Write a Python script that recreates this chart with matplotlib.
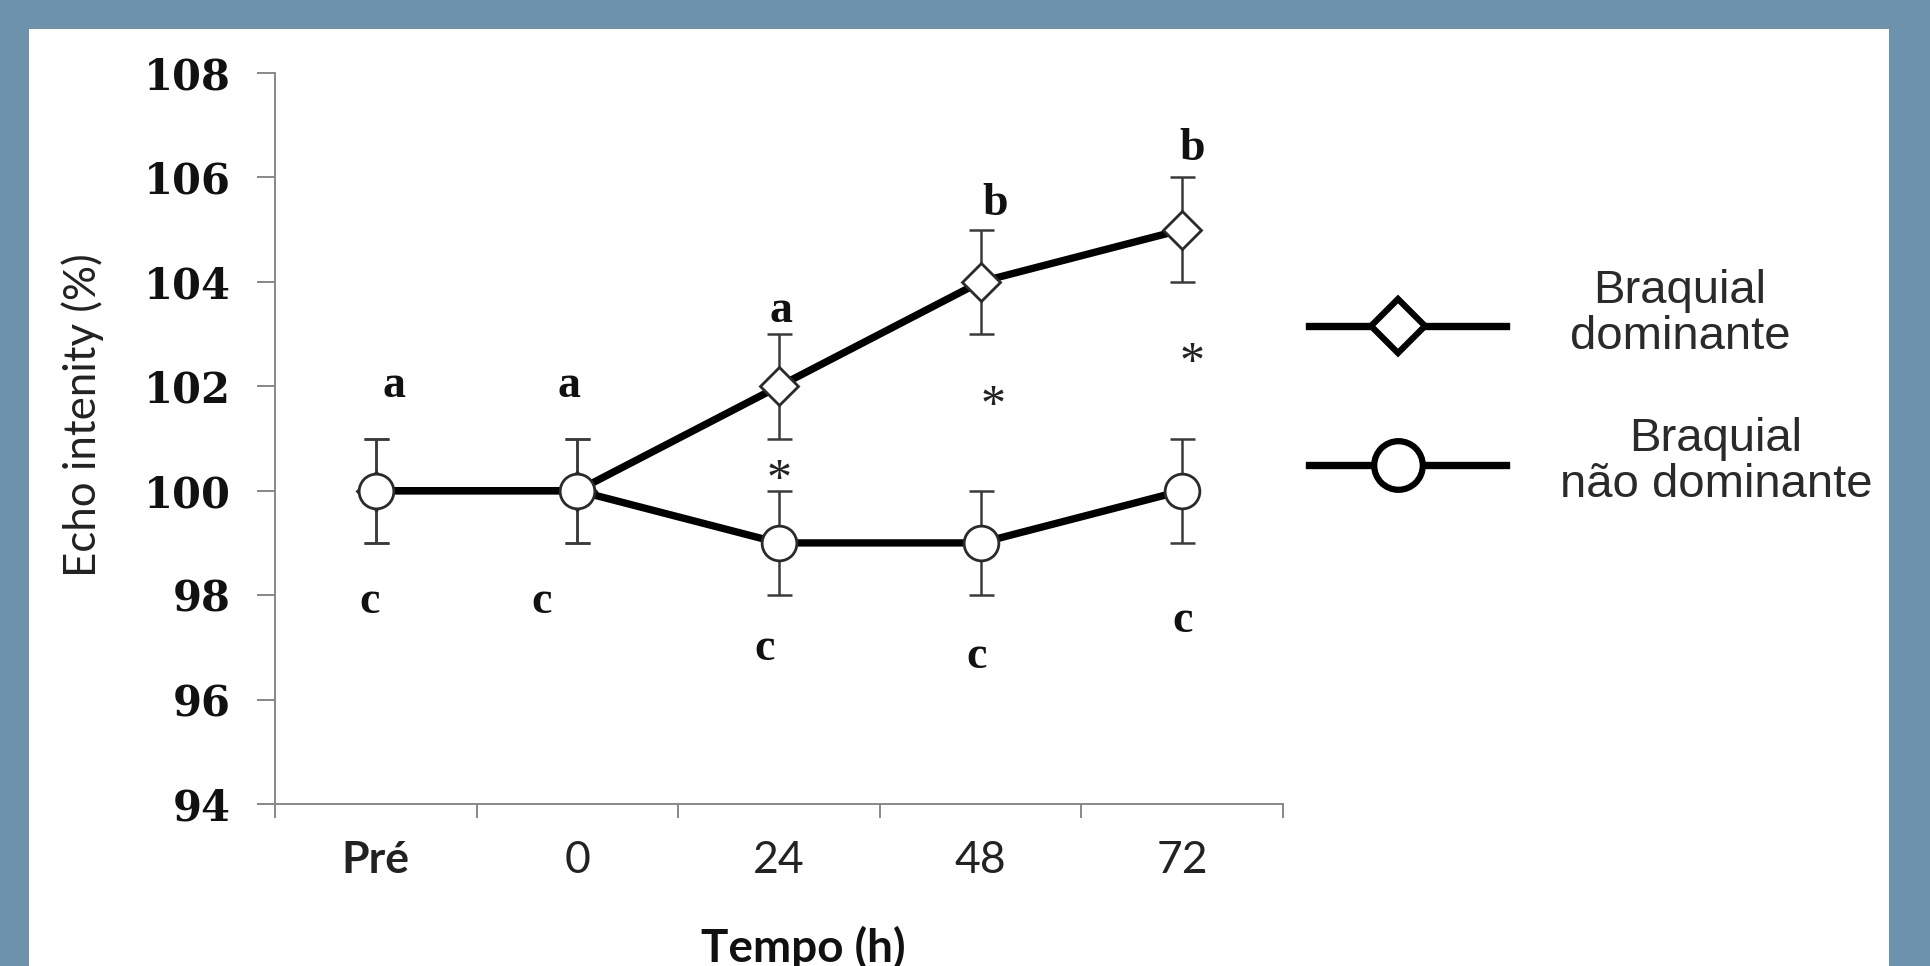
import matplotlib.pyplot as plt
from matplotlib.lines import Line2D
from matplotlib.patches import Rectangle

# dados (Echo intensity, % do pré)
tempos = ['Pré', '0', '24', '48', '72']
dominante = [100, 100, 102, 104, 105]
dominante_err = [1, 1, 1, 1, 1]
nao_dominante = [100, 100, 99, 99, 100]
nao_dominante_err = [1, 1, 1, 1, 1]

# letras de significancia e asteriscos (valor y onde aparecem)
letras_sup = ['a', 'a', 'a', 'b', 'b']
letras_sup_y = [102.0, 102.0, 103.45, 105.5, 106.55]
letras_inf = ['c', 'c', 'c', 'c', 'c']
letras_inf_y = [97.87, 97.87, 96.97, 96.82, 97.5]
asterisco_idx = [2, 3, 4]
asterisco_y = [100.2, 101.6, 102.43]

# pequenos deslocamentos horizontais das letras (em unidades de categoria)
sup_dx = [0.09, -0.04, 0.01, 0.07, 0.05]
inf_dx = [-0.03, -0.18, -0.07, -0.02, 0.0]
ast_dx = [0.0, 0.06, 0.05]

W, H = 1931, 966
fig = plt.figure(figsize=(W / 100, H / 100), dpi=100)
fig.patch.set_facecolor('#6d92ab')


def fx(x):
    return x / W


def fy(y):
    return 1 - y / H


# painel branco (atrás dos eixos)
fig.patches.append(Rectangle((fx(29), 0), fx(1889) - fx(29), fy(29),
                             transform=fig.transFigure, facecolor='white',
                             edgecolor='none', zorder=-10))

ax = fig.add_axes([fx(275), fy(804), fx(1283) - fx(275), fy(73) - fy(804)])
ax.set_facecolor('white')

x = [i + 0.5 for i in range(len(tempos))]

err_kw = dict(fmt='none', ecolor='#3a3a3a', elinewidth=1.8, capsize=9, capthick=1.8, zorder=2)
ax.errorbar(x, dominante, yerr=dominante_err, **err_kw)
ax.errorbar(x, nao_dominante, yerr=nao_dominante_err, **err_kw)

ax.plot(x, dominante, color='black', lw=5.3, marker='D', ms=19.5,
        mfc='white', mec='#2a2a2a', mew=2, zorder=3)
ax.plot(x, nao_dominante, color='black', lw=5.3, marker='o', ms=25,
        mfc='white', mec='#2a2a2a', mew=2, zorder=4)

# letras
for i in range(len(tempos)):
    ax.text(x[i] + sup_dx[i], letras_sup_y[i], letras_sup[i], ha='center', va='center',
            fontfamily='Liberation Serif', fontweight='bold', fontsize=33, color='#111111')
    ax.text(x[i] + inf_dx[i], letras_inf_y[i], letras_inf[i], ha='center', va='center',
            fontfamily='Liberation Serif', fontweight='bold', fontsize=33, color='#111111')
for k, i in enumerate(asterisco_idx):
    ax.text(x[i] + ast_dx[k], asterisco_y[k], '*', ha='center', va='center',
            fontfamily='Liberation Serif', fontsize=36, color='#222222')

ax.set_xlim(0, 5)
ax.set_ylim(94, 108)
ax.set_yticks(range(94, 109, 2))
ax.set_xticks(x)
ax.set_xticks(range(0, 6), minor=True)

for s in ['top', 'right']:
    ax.spines[s].set_visible(False)
for s in ['left', 'bottom']:
    ax.spines[s].set_color('#888888')
    ax.spines[s].set_linewidth(1.4)

ax.tick_params(axis='y', direction='out', length=13, width=1.4, color='#888888', pad=19)
ax.tick_params(axis='x', which='major', length=0, pad=26)
ax.tick_params(axis='x', which='minor', direction='out', length=10, width=1.4, color='#888888')

for lab in ax.get_yticklabels():
    lab.set_fontfamily('DejaVu Serif')
    lab.set_fontweight('bold')
    lab.set_fontsize(30)
    lab.set_color('#111111')

xlabels = ax.set_xticklabels(tempos, fontfamily='Lato', fontsize=32, color='#222222')
xlabels[0].set_fontweight('bold')

ax.set_ylabel('Echo intenity (%)', fontfamily='Lato', fontsize=31.5, color='#222222')
ax.yaxis.set_label_coords((83 - 275) / 1008, (804 - 415) / 731)
ax.yaxis.label.set_va('center')

ax.set_xlabel('Tempo (h)', fontfamily='Lato', fontweight='bold', fontsize=33, color='#111111')
ax.xaxis.set_label_coords((803 - 275) / 1008, (804 - 962) / 731)
ax.xaxis.label.set_va('baseline')

# legenda desenhada à mão, como no original
for yy, mk, ms in [(326, 'D', 27), (465, 'o', 35)]:
    fig.add_artist(Line2D([fx(1309), fx(1506)], [fy(yy), fy(yy)], color='black', lw=5.3))
    fig.add_artist(Line2D([fx(1398)], [fy(yy)], marker=mk, ms=ms, mfc='white',
                          mec='black', mew=4.5, linestyle='none'))

fig.text(fx(1680), fy(314), 'Braquial\ndominante', ha='center', va='center',
         multialignment='center', fontfamily='Liberation Sans', fontsize=34,
         linespacing=1.05, color='#2a2a2a')
fig.text(fx(1716), fy(462), 'Braquial\nnão dominante', ha='center', va='center',
         multialignment='center', fontfamily='Liberation Sans', fontsize=34,
         linespacing=1.05, color='#2a2a2a')

fig.savefig('out.png', dpi=100, facecolor=fig.get_facecolor())
